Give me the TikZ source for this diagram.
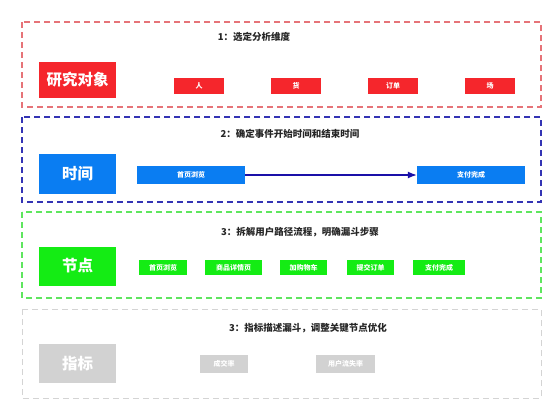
\documentclass[tikz,border=0pt]{standalone}
\usepackage{fontspec}
\setmainfont{Noto Sans CJK SC}
\usetikzlibrary{arrows.meta}
\definecolor{cred}{HTML}{F5262C}
\definecolor{credb}{HTML}{E67378}
\definecolor{cblue}{HTML}{0A7DF2}
\definecolor{cblueb}{HTML}{3434B4}
\definecolor{cgreen}{HTML}{14EC14}
\definecolor{cgreenb}{HTML}{5EE65E}
\definecolor{cgrey}{HTML}{D2D2D2}
\definecolor{cgreyb}{HTML}{D4D4D4}
\definecolor{carrow}{HTML}{1A10A8}
\tikzset{
  frame/.style={line width=1.4pt, dash pattern=on 6pt off 4pt},
  bigbox/.style={fill=#1, draw=none, minimum width=77pt, minimum height=38pt, inner sep=0pt, text=white, font=\bfseries\fontsize{15.5}{18}\selectfont},
  smallbox/.style={fill=#1, draw=none, inner sep=0pt, text=white, font=\bfseries\fontsize{7}{8}\selectfont},
  title/.style={font=\bfseries\fontsize{9.5}{11}\selectfont, text=black!85},
}
\begin{document}
\begin{tikzpicture}[x=1pt,y=-1pt]
\useasboundingbox (0,0) rectangle (556,415);
\fill[white] (0,0) rectangle (556,415);
% frames
\draw[frame, draw=credb] (22,22) rectangle (541,107);
\draw[frame, draw=cblueb] (22,117) rectangle (541,202);
\draw[frame, draw=cgreenb] (22,212) rectangle (541,298);
\draw[line width=1pt, dash pattern=on 6pt off 4pt, draw=cgreyb] (22,309) rectangle (541,398);
% row 1
\node[title] (t1) at (254,37) {1：选定分析维度};
\node[bigbox=cred, minimum height=36pt] (r1) at (77.5,80) {研究对象};
\node[smallbox=cred, minimum width=50pt, minimum height=16pt] (a1) at (199,86) {人};
\node[smallbox=cred, minimum width=50pt, minimum height=16pt] (a2) at (296,86) {货};
\node[smallbox=cred, minimum width=50pt, minimum height=16pt] (a3) at (393,86) {订单};
\node[smallbox=cred, minimum width=50pt, minimum height=16pt] (a4) at (490,86) {场};
% row 2
\node[title] (t2) at (290,134) {2：确定事件开始时间和结束时间};
\node[bigbox=cblue, minimum height=40pt] (r2) at (77.5,174) {时间};
\node[smallbox=cblue, minimum width=108pt, minimum height=18pt] (b1) at (191,175) {首页浏览};
\node[smallbox=cblue, minimum width=108pt, minimum height=18pt] (b2) at (471,175) {支付完成};
\draw[carrow, line width=1.3pt, -{Latex[length=9pt,width=7pt]}] (b1.east) -- (b2.west);
% row 3
\node[title] (t3) at (300,232) {3：拆解用户路径流程，明确漏斗步骤};
\node[bigbox=cgreen, minimum height=39pt] (r3) at (77.5,266) {节点};
\node[smallbox=cgreen, minimum width=48pt, minimum height=15pt] (c1) at (163,267.5) {首页浏览};
\node[smallbox=cgreen, minimum width=57pt, minimum height=15pt] (c2) at (233.5,267.5) {商品详情页};
\node[smallbox=cgreen, minimum width=47pt, minimum height=15pt] (c3) at (303.5,267.5) {加购物车};
\node[smallbox=cgreen, minimum width=47pt, minimum height=15pt] (c4) at (370.5,267.5) {提交订单};
\node[smallbox=cgreen, minimum width=52pt, minimum height=15pt] (c5) at (439,267.5) {支付完成};
% row 4
\node[title] (t4) at (308,328) {3：指标描述漏斗，调整关键节点优化};
\node[bigbox=cgrey, minimum height=39pt] (r4) at (77.5,363.5) {指标};
\node[smallbox=cgrey, minimum width=48pt, minimum height=18pt] (d1) at (224,364) {成交率};
\node[smallbox=cgrey, minimum width=59pt, minimum height=18pt] (d2) at (345.5,364) {用户流失率};
\end{tikzpicture}
\end{document}
